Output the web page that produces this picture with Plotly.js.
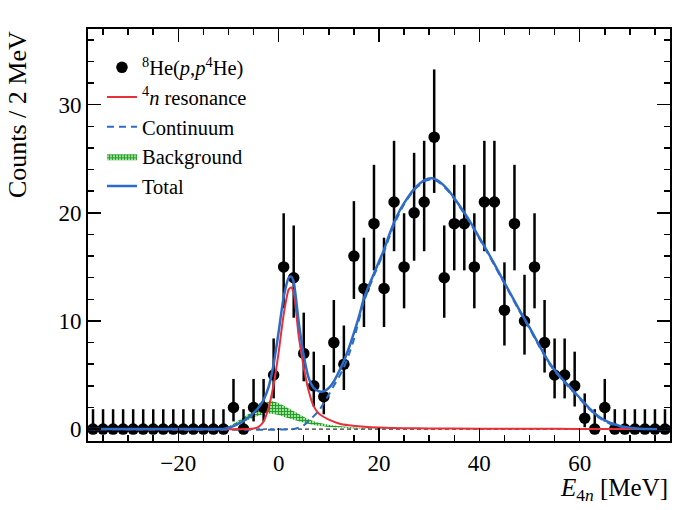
<!DOCTYPE html>
<html>
<head>
<meta charset="utf-8">
<script src="https://cdn.plot.ly/plotly-3.0.1.min.js"></script>
<style>
  html, body { margin: 0; padding: 0; background: #fff; }
  #plot { width: 680px; height: 510px; }
</style>
</head>
<body>
<div id="plot"></div>
<script>
"use strict";

// bin centres, 2 MeV bins
const binCenters = [-37, -35, -33, -31, -29, -27, -25, -23, -21, -19, -17, -15, -13, -11,
    -9, -7, -5, -3, -1, 1, 3, 5, 7, 9, 11, 13, 15, 17, 19, 21, 23, 25, 27, 29, 31, 33, 35,
    37, 39, 41, 43, 45, 47, 49, 51, 53, 55, 57, 59, 61, 63, 65, 67, 69, 71, 73, 75, 77];
const counts = [0, 0, 0, 0, 0, 0, 0, 0, 0, 0, 0, 0, 0, 0,
    2, 0, 2, 2, 5, 15, 14, 7, 4, 3, 8, 6, 16, 13, 19, 13, 21, 15, 20, 21, 27, 14, 19,
    19, 15, 21, 21, 11, 19, 10, 15, 8, 5, 5, 4, 1, 0, 2, 0, 0, 0, 0, 0, 0];

// asymmetric poisson errors (up / down) per count
const poissonUp = {0: 1.84, 1: 2.30, 2: 2.64, 3: 2.92, 4: 3.16, 5: 3.38, 6: 3.58, 7: 3.77,
    8: 3.94, 10: 4.27, 11: 4.42, 13: 4.70, 14: 4.83, 15: 4.96, 16: 5.08, 19: 5.44,
    20: 5.55, 21: 5.66, 27: 6.26};
const poissonDown = {0: 0, 1: 0.83, 2: 1.29, 3: 1.63, 4: 1.91, 5: 2.16, 6: 2.38, 7: 2.58,
    8: 2.77, 10: 3.11, 11: 3.27, 13: 3.56, 14: 3.70, 15: 3.83, 16: 3.96, 19: 4.32,
    20: 4.43, 21: 4.55, 27: 5.16};

// 4n resonance curve
const resX = [-38, -6, -5, -4, -3, -2, -1, 0, 1, 2, 2.5, 3, 4, 5, 6, 7, 8, 9, 10, 12, 14, 17, 20, 25, 30, 40, 50, 60, 78];
const resY = [0, 0, 0.05, 0.2, 0.7, 2.0, 4.1, 7.1, 10.6, 12.9, 13.1, 12.6, 8.6, 5.7, 3.5, 2.1, 1.45, 1.12, 0.88, 0.52, 0.35, 0.22, 0.14, 0.09, 0.06, 0.04, 0.03, 0.02, 0.01];

// continuum curve
const contX = [-38, 3, 4, 5, 6, 7, 8, 9, 10, 11, 12, 13, 14, 15, 17, 19, 21, 23, 25, 27, 29, 30.5, 32, 34, 36, 38, 40, 42, 44, 46, 48, 50, 52, 54, 56, 58, 60, 62, 64, 66, 68, 70, 72, 74, 78];
const contY = [0, 0, 0.12, 0.35, 0.75, 1.2, 1.7, 2.4, 3.2, 4.0, 4.8, 5.7, 6.9, 8.3, 11.8, 14.2, 16.4, 18.9, 20.8, 22.1, 22.9, 23.1, 22.8, 21.9, 20.6, 19.2, 17.6, 16.0, 14.3, 12.6, 10.9, 9.3, 7.6, 6.0, 4.8, 3.8, 2.8, 1.8, 1.0, 0.5, 0.25, 0.1, 0.02, 0, 0];

// background band
const bkgX = [-11, -9, -7, -5, -3, -2, -1, 0, 1, 2, 3, 4, 5, 6, 7, 8, 10, 12, 14, 17, 20, 25];
const bkgHigh = [0, 0.5, 1.1, 1.7, 2.3, 2.55, 2.55, 2.4, 2.15, 1.9, 1.65, 1.4, 1.15, 0.9, 0.72, 0.58, 0.4, 0.28, 0.2, 0.12, 0.06, 0.02];
const bkgLow = [0, 0.22, 0.65, 1.05, 1.4, 1.45, 1.4, 1.3, 1.15, 1.0, 0.86, 0.72, 0.6, 0.48, 0.38, 0.31, 0.2, 0.14, 0.09, 0.05, 0.02, 0];

// total fit
const totX = [-38, -12, -11, -10, -9, -8, -7, -6, -5, -4, -3, -2, -1, 0, 1, 2, 2.5, 3, 4, 5, 6, 7, 8, 9, 10, 11, 12, 13, 14, 15, 16, 17, 18, 19, 20, 21, 22, 23, 24, 25, 27, 29, 30.5, 32, 34, 36, 38, 40, 42, 44, 46, 48, 50, 52, 54, 56, 58, 60, 62, 64, 66, 68, 70, 72, 74, 78];
const totY = [0, 0, 0.02, 0.12, 0.28, 0.5, 0.75, 1.1, 1.5, 2.0, 2.7, 3.9, 6.0, 9.0, 12.2, 14.0, 14.1, 13.6, 9.9, 6.8, 4.7, 3.8, 3.5, 3.5, 3.8, 4.4, 5.3, 6.3, 7.5, 8.9, 10.4, 12.1, 13.3, 14.4, 15.5, 16.6, 17.9, 19.1, 20.1, 20.9, 22.2, 23.0, 23.2, 22.9, 22.0, 20.7, 19.3, 17.7, 16.1, 14.4, 12.7, 11.0, 9.4, 7.7, 6.1, 4.9, 3.9, 2.9, 1.9, 1.1, 0.6, 0.3, 0.12, 0.03, 0, 0];

const baseX = [-38, 78];
const baseY = [0, 0];

const FONT = "'Liberation Serif', 'DejaVu Serif', serif";
const BLUE = "#2e6bc6";
const RED = "#e8303a";
const GREEN = "#22a022";

const traces = [
    {
        x: bkgX, y: bkgLow, type: "scatter", mode: "lines",
        line: {width: 0, color: GREEN, shape: "spline"}, showlegend: false, hoverinfo: "skip"
    },
    {
        x: bkgX, y: bkgHigh, type: "scatter", mode: "lines", name: "Background",
        line: {width: 0, color: GREEN, shape: "spline"}, fill: "tonexty",
        fillcolor: "rgba(90,190,90,0.6)",
        fillpattern: {shape: "+", fgcolor: GREEN, bgcolor: "rgba(140,215,140,0.8)", size: 3, solidity: 0.55},
        legendrank: 4
    },
    {
        x: baseX, y: baseY, type: "scatter", mode: "lines",
        line: {width: 1, color: "#000", dash: "4px,3px"}, showlegend: false
    },
    {
        x: binCenters, y: counts, type: "scatter", mode: "markers",
        name: "<sup>8</sup>He(<i>p</i>,<i>p</i><sup>4</sup>He)",
        marker: {color: "#000", size: 11.5},
        error_y: {
            type: "data", symmetric: false,
            array: counts.map(c => poissonUp[c]),
            arrayminus: counts.map(c => poissonDown[c]),
            color: "#000", thickness: 2.5, width: 0
        },
        legendrank: 1
    },
    {
        x: contX, y: contY, type: "scatter", mode: "lines", name: "Continuum",
        line: {color: BLUE, width: 2, dash: "7px,5px", shape: "spline", smoothing: 0.6},
        legendrank: 3
    },
    {
        x: resX, y: resY, type: "scatter", mode: "lines", name: "<sup>4</sup><i>n</i> resonance",
        line: {color: RED, width: 2, shape: "spline", smoothing: 0.6},
        legendrank: 2
    },
    {
        x: totX, y: totY, type: "scatter", mode: "lines", name: "Total",
        line: {color: BLUE, width: 2.5, shape: "spline", smoothing: 0.6},
        legendrank: 5
    }
];

const layout = {
    width: 680,
    height: 510,
    margin: {l: 88, r: 10, t: 29, b: 69},
    paper_bgcolor: "#fff",
    plot_bgcolor: "#fff",
    font: {family: FONT, color: "#000", size: 22},
    showlegend: true,
    legend: {
        x: 0.024, y: 0.955, xanchor: "left", yanchor: "top",
        traceorder: "normal",
        bgcolor: "rgba(0,0,0,0)", font: {family: FONT, size: 20.5},
        itemwidth: 30, tracegroupgap: 0
    },
    xaxis: {
        range: [-38, 78], dtick: 20, tick0: 0,
        ticks: "inside", ticklen: 13, tickwidth: 1.5, tickcolor: "#000",
        minor: {ticks: "inside", dtick: 5, ticklen: 6, tickwidth: 1.5, tickcolor: "#000"},
        showline: true, linewidth: 2, linecolor: "#000", mirror: "ticks",
        showgrid: false, zeroline: false,
        tickfont: {family: FONT, size: 23}
    },
    yaxis: {
        range: [-1.1, 37], dtick: 10, tick0: 0,
        ticks: "inside", ticklen: 13, tickwidth: 1.5, tickcolor: "#000",
        minor: {ticks: "inside", dtick: 2, ticklen: 6, tickwidth: 1.5, tickcolor: "#000"},
        showline: true, linewidth: 2, linecolor: "#000", mirror: "ticks",
        showgrid: false, zeroline: false,
        tickfont: {family: FONT, size: 23}
    },
    annotations: [
        {
            text: "<i>E</i><sub>4<i>n</i></sub> [MeV]", xref: "paper", yref: "paper",
            x: 1.0, y: -0.118, xanchor: "right", yanchor: "middle", showarrow: false,
            font: {family: FONT, size: 25}
        },
        {
            text: "Counts / 2 MeV", xref: "paper", yref: "paper", textangle: -90,
            x: -0.121, y: 1.0, xanchor: "center", yanchor: "top", showarrow: false,
            font: {family: FONT, size: 26}
        }
    ]
};

Plotly.newPlot(document.getElementById("plot"), traces, layout, {staticPlot: true, displaylogo: false});
</script>
</body>
</html>
